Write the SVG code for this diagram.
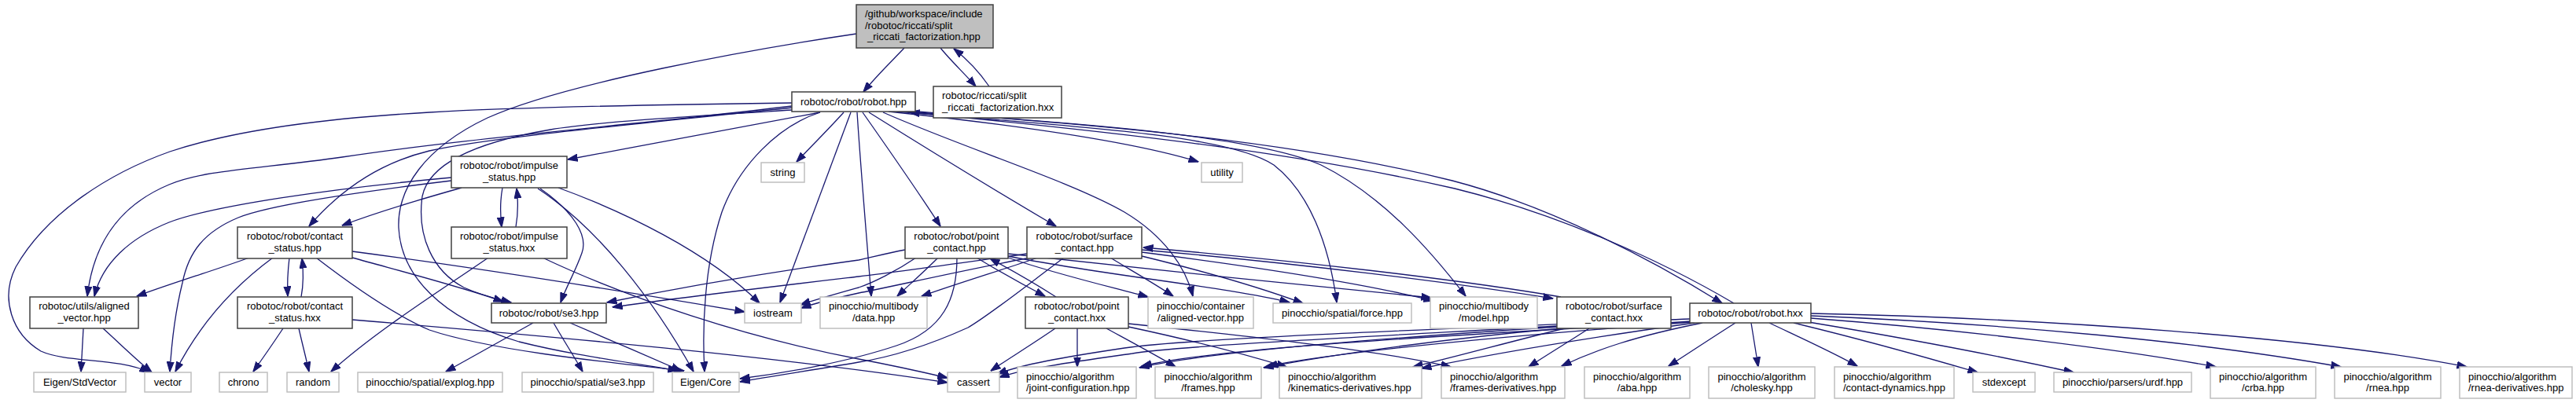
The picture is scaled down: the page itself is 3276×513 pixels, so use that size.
<svg xmlns="http://www.w3.org/2000/svg" width="3276" height="513" viewBox="0 0 3276 513">
<defs>
<marker id="ah" viewBox="0 0 13 10" refX="12.5" refY="5" markerWidth="13" markerHeight="10" markerUnits="userSpaceOnUse" orient="auto">
<path d="M0,0.5 L13,5 L0,9.5 z" fill="#191970" stroke="#191970" stroke-width="1"/>
</marker>
<style>
text{font-family:"Liberation Sans",Arial,Helvetica,sans-serif;font-size:13px;fill:#000}
.c{text-anchor:middle}
.l{text-anchor:start}
.n rect{fill:#fff;stroke:#404040;stroke-width:1.5}
.x rect{fill:#fff;stroke:#bfbfbf;stroke-width:1.5}
.r rect{fill:#bfbfbf;stroke:#404040;stroke-width:1.5}
#edges path{fill:none;stroke:#191970;stroke-width:1.3;marker-end:url(#ah)}
</style>
</defs>
<rect x="0" y="0" width="3276" height="513" fill="#fff"/>
<g id="edges">
<path d="M1150,61 C1135,77 1115,96 1098,117"/>
<path d="M1196,61 C1208,76 1225,92 1241,110"/>
<path d="M1258,110 C1247,94 1232,77 1213,62"/>
<path d="M1089,43 C960,62 720,105 620,150 C540,188 505,240 507,290 C510,350 560,405 660,435 C740,455 810,462 862,472"/>
<path d="M1007,131 C850,133 650,137 546,143 C420,150 300,165 216,193 C140,220 60,270 20,340 C0,380 15,425 52,447 C85,462 150,455 190,474"/>
<path d="M1007,135 C800,160 600,175 435,200 C330,215 260,216 215,235 C160,258 120,300 111,377"/>
<path d="M1007,137 C820,157 620,175 546,192 C480,208 430,245 393,288"/>
<path d="M1043,143 C940,162 830,183 722,203"/>
<path d="M1007,140 C880,148 760,155 700,165 C600,182 545,210 537,250 C530,300 550,345 590,366 C612,376 630,380 650,385"/>
<path d="M1043,143 C990,160 940,210 918,270 C895,340 893,420 896,473"/>
<path d="M1073,143 C1055,163 1033,185 1013,206"/>
<path d="M1082,143 C1050,230 1020,310 992,385"/>
<path d="M1090,143 C1095,220 1102,300 1108,377"/>
<path d="M1097,143 C1130,190 1165,240 1196,288"/>
<path d="M1105,143 C1180,190 1270,245 1343,288"/>
<path d="M1123,143 C1230,190 1360,230 1430,270 C1480,300 1508,340 1517,377"/>
<path d="M1130,142 C1300,160 1440,180 1524,206"/>
<path d="M1140,142 C1350,160 1560,170 1620,210 C1665,245 1690,310 1700,385"/>
<path d="M1150,142 C1400,158 1600,175 1680,210 C1760,250 1820,320 1864,377"/>
<path d="M1155,141 C1400,160 1640,178 1847,230 C1970,262 2100,330 2190,386"/>
<path d="M2205,386 C2110,330 1980,272 1850,240 C1640,192 1400,166 1157,143"/>
<path d="M574,226 C420,240 270,262 215,283 C165,303 130,335 120,377"/>
<path d="M574,230 C450,245 340,262 303,277 C260,295 240,320 232,360 C222,400 218,440 216,473"/>
<path d="M587,239 C530,255 480,270 435,287"/>
<path d="M639,239 C636,255 636,272 638,289"/>
<path d="M656,289 C659,272 659,256 657,240"/>
<path d="M687,240 C730,270 748,300 740,322 C732,345 720,365 713,385"/>
<path d="M684,240 C760,290 830,380 882,473"/>
<path d="M710,239 C790,268 900,320 966,386"/>
<path d="M621,328 C560,370 480,420 421,473"/>
<path d="M690,328 C800,380 950,430 1092,457 C1140,466 1175,474 1205,481"/>
<path d="M317,328 C270,345 220,360 174,377"/>
<path d="M347,328 C290,370 250,420 223,473"/>
<path d="M368,328 C366,345 365,360 366,377"/>
<path d="M383,378 C386,362 386,345 384,329"/>
<path d="M448,320 C600,340 800,372 947,397"/>
<path d="M448,328 C520,348 590,366 640,384"/>
<path d="M402,328 C450,365 500,400 546,420 C620,445 760,460 870,472"/>
<path d="M360,418 C348,436 335,455 322,473"/>
<path d="M380,418 C384,436 389,455 393,473"/>
<path d="M448,407 C700,428 1000,455 1205,487"/>
<path d="M106,418 C105,436 104,455 103,473"/>
<path d="M131,418 C150,435 170,455 193,474"/>
<path d="M678,411 C640,432 605,452 567,473"/>
<path d="M704,411 C716,432 729,452 741,473"/>
<path d="M725,411 C770,430 820,452 866,472"/>
<path d="M1151,318 C1130,322 1110,327 1092,331 C990,345 870,365 772,385"/>
<path d="M1165,328 C1140,345 1110,360 1092,366 C1060,375 1035,382 1018,388"/>
<path d="M1193,328 C1176,345 1158,361 1141,377"/>
<path d="M1282,328 C1340,348 1400,362 1460,378"/>
<path d="M1282,326 C1400,350 1560,365 1640,385"/>
<path d="M1282,323 C1450,342 1650,362 1820,379"/>
<path d="M1217,328 C1217,380 1200,420 1140,440 C1080,460 1000,475 941,482"/>
<path d="M1242,328 C1270,345 1300,362 1329,377"/>
<path d="M1343,378 C1315,360 1285,343 1259,329"/>
<path d="M1306,323 C1220,335 1150,345 1092,352 C990,364 870,378 779,391"/>
<path d="M1310,328 C1220,345 1120,368 1092,373 C1065,379 1040,385 1019,392"/>
<path d="M1320,328 C1270,345 1220,360 1172,377"/>
<path d="M1353,328 C1310,360 1260,400 1231,417 C1180,440 1130,455 1092,461 C1040,470 980,479 941,486"/>
<path d="M1412,328 C1440,345 1470,362 1492,377"/>
<path d="M1452,326 C1530,345 1600,365 1657,386"/>
<path d="M1452,321 C1600,340 1740,362 1823,383"/>
<path d="M1452,318 C1650,335 1850,360 1975,380"/>
<path d="M1985,378 C1850,355 1650,332 1454,315"/>
<path d="M1342,418 C1310,440 1285,455 1260,472"/>
<path d="M1370,418 C1370,435 1370,450 1370,467"/>
<path d="M1407,418 C1440,436 1470,452 1495,467"/>
<path d="M1435,416 C1510,432 1580,450 1636,467"/>
<path d="M1435,412 C1560,425 1750,445 1845,467"/>
<path d="M1980,415 C1750,428 1500,440 1440,450 C1370,460 1310,468 1271,480"/>
<path d="M1982,416 C1800,428 1550,445 1449,468"/>
<path d="M1985,418 C1850,430 1700,450 1607,468"/>
<path d="M1990,418 C1920,435 1860,452 1797,467"/>
<path d="M2021,418 C1995,435 1970,450 1944,467"/>
<path d="M2149,406 C1850,418 1520,430 1430,443 C1350,455 1300,464 1268,476"/>
<path d="M2150,409 C1900,425 1560,440 1452,466"/>
<path d="M2152,410 C1950,425 1720,445 1612,466"/>
<path d="M2155,411 C2020,430 1900,450 1808,469"/>
<path d="M2165,411 C2080,428 2030,445 1986,466"/>
<path d="M2207,411 C2180,428 2150,448 2122,466"/>
<path d="M2227,411 C2230,430 2233,448 2236,467"/>
<path d="M2250,411 C2290,430 2330,448 2362,466"/>
<path d="M2281,411 C2360,430 2450,455 2515,474"/>
<path d="M2300,410 C2420,430 2550,455 2637,474"/>
<path d="M2303,405 C2500,420 2700,445 2818,467"/>
<path d="M2303,402 C2550,412 2800,435 2977,467"/>
<path d="M2303,399 C2600,405 2950,430 3137,467"/>
</g>
<g id="n_root" class="r"><rect x="1089" y="6" width="174" height="55"/><text class="l" x="1100" y="22">/github/workspace/include</text><text class="l" x="1100" y="37">/robotoc/riccati/split</text><text class="l" x="1103" y="51">_riccati_factorization.hpp</text></g>
<g id="n_robot_hpp" class="n"><rect x="1007" y="117" width="157" height="25"/><text class="c" x="1085.5" y="134">robotoc/robot/robot.hpp</text></g>
<g id="n_riccati_hxx" class="n"><rect x="1187" y="110" width="163" height="40"/><text class="l" x="1198" y="126">robotoc/riccati/split</text><text class="l" x="1198" y="140.5">_riccati_factorization.hxx</text></g>
<g id="n_impulse_hpp" class="n"><rect x="574" y="199" width="147" height="40"/><text class="c" x="647.5" y="215">robotoc/robot/impulse</text><text class="c" x="647.5" y="229.5">_status.hpp</text></g>
<g id="n_string" class="x"><rect x="968" y="207" width="55" height="25"/><text class="c" x="995.5" y="224">string</text></g>
<g id="n_utility" class="x"><rect x="1528" y="207" width="52" height="25"/><text class="c" x="1554" y="224">utility</text></g>
<g id="n_contact_hpp" class="n"><rect x="302" y="289" width="146" height="40"/><text class="c" x="375" y="305">robotoc/robot/contact</text><text class="c" x="375" y="319.5">_status.hpp</text></g>
<g id="n_impulse_hxx" class="n"><rect x="574" y="289" width="147" height="40"/><text class="c" x="647.5" y="305">robotoc/robot/impulse</text><text class="c" x="647.5" y="319.5">_status.hxx</text></g>
<g id="n_point_hpp" class="n"><rect x="1151" y="289" width="131" height="40"/><text class="c" x="1216.5" y="305">robotoc/robot/point</text><text class="c" x="1216.5" y="319.5">_contact.hpp</text></g>
<g id="n_surface_hpp" class="n"><rect x="1306" y="289" width="146" height="40"/><text class="c" x="1379" y="305">robotoc/robot/surface</text><text class="c" x="1379" y="319.5">_contact.hpp</text></g>
<g id="n_aligned_vector" class="n"><rect x="38" y="378" width="138" height="40"/><text class="c" x="107" y="394">robotoc/utils/aligned</text><text class="c" x="107" y="408.5">_vector.hpp</text></g>
<g id="n_contact_hxx" class="n"><rect x="302" y="378" width="146" height="40"/><text class="c" x="375" y="394">robotoc/robot/contact</text><text class="c" x="375" y="408.5">_status.hxx</text></g>
<g id="n_se3" class="n"><rect x="625" y="386" width="146" height="25"/><text class="c" x="698" y="403">robotoc/robot/se3.hpp</text></g>
<g id="n_iostream" class="x"><rect x="947" y="386" width="72" height="25"/><text class="c" x="983" y="403">iostream</text></g>
<g id="n_data" class="x"><rect x="1043" y="378" width="136" height="40"/><text class="c" x="1111" y="394">pinocchio/multibody</text><text class="c" x="1111" y="408.5">/data.hpp</text></g>
<g id="n_point_hxx" class="n"><rect x="1304" y="378" width="131" height="40"/><text class="c" x="1369.5" y="394">robotoc/robot/point</text><text class="c" x="1369.5" y="408.5">_contact.hxx</text></g>
<g id="n_container_av" class="x"><rect x="1460" y="378" width="134" height="40"/><text class="c" x="1527" y="394">pinocchio/container</text><text class="c" x="1527" y="408.5">/aligned-vector.hpp</text></g>
<g id="n_force" class="x"><rect x="1619" y="386" width="176" height="25"/><text class="c" x="1707" y="403">pinocchio/spatial/force.hpp</text></g>
<g id="n_model" class="x"><rect x="1819" y="378" width="136" height="40"/><text class="c" x="1887" y="394">pinocchio/multibody</text><text class="c" x="1887" y="408.5">/model.hpp</text></g>
<g id="n_surface_hxx" class="n"><rect x="1980" y="378" width="145" height="40"/><text class="c" x="2052.5" y="394">robotoc/robot/surface</text><text class="c" x="2052.5" y="408.5">_contact.hxx</text></g>
<g id="n_robot_hxx" class="n"><rect x="2149" y="386" width="154" height="25"/><text class="c" x="2226" y="403">robotoc/robot/robot.hxx</text></g>
<g id="n_stdvector" class="x"><rect x="43" y="474" width="117" height="25"/><text class="c" x="101.5" y="491">Eigen/StdVector</text></g>
<g id="n_vector" class="x"><rect x="184" y="474" width="59" height="25"/><text class="c" x="213.5" y="491">vector</text></g>
<g id="n_chrono" class="x"><rect x="279" y="474" width="61" height="25"/><text class="c" x="309.5" y="491">chrono</text></g>
<g id="n_random" class="x"><rect x="365" y="474" width="66" height="25"/><text class="c" x="398" y="491">random</text></g>
<g id="n_explog" class="x"><rect x="455" y="474" width="184" height="25"/><text class="c" x="547" y="491">pinocchio/spatial/explog.hpp</text></g>
<g id="n_spatial_se3" class="x"><rect x="664" y="474" width="167" height="25"/><text class="c" x="747.5" y="491">pinocchio/spatial/se3.hpp</text></g>
<g id="n_eigen_core" class="x"><rect x="855" y="474" width="85" height="25"/><text class="c" x="897.5" y="491">Eigen/Core</text></g>
<g id="n_cassert" class="x"><rect x="1205" y="474" width="66" height="25"/><text class="c" x="1238" y="491">cassert</text></g>
<g id="n_jointconf" class="x"><rect x="1294" y="467" width="151" height="40"/><text class="l" x="1305" y="483.5">pinocchio/algorithm</text><text class="l" x="1305" y="498">/joint-configuration.hpp</text></g>
<g id="n_frames" class="x"><rect x="1469" y="467" width="135" height="40"/><text class="c" x="1536.5" y="483.5">pinocchio/algorithm</text><text class="c" x="1536.5" y="498">/frames.hpp</text></g>
<g id="n_kinder" class="x"><rect x="1627" y="467" width="181" height="40"/><text class="l" x="1638" y="483.5">pinocchio/algorithm</text><text class="l" x="1638" y="498">/kinematics-derivatives.hpp</text></g>
<g id="n_framesder" class="x"><rect x="1833" y="467" width="157" height="40"/><text class="l" x="1844" y="483.5">pinocchio/algorithm</text><text class="l" x="1844" y="498">/frames-derivatives.hpp</text></g>
<g id="n_aba" class="x"><rect x="2015" y="467" width="134" height="40"/><text class="c" x="2082" y="483.5">pinocchio/algorithm</text><text class="c" x="2082" y="498">/aba.hpp</text></g>
<g id="n_cholesky" class="x"><rect x="2173" y="467" width="135" height="40"/><text class="c" x="2240.5" y="483.5">pinocchio/algorithm</text><text class="c" x="2240.5" y="498">/cholesky.hpp</text></g>
<g id="n_contactdyn" class="x"><rect x="2333" y="467" width="152" height="40"/><text class="l" x="2344" y="483.5">pinocchio/algorithm</text><text class="l" x="2344" y="498">/contact-dynamics.hpp</text></g>
<g id="n_stdexcept" class="x"><rect x="2509" y="474" width="79" height="25"/><text class="c" x="2548.5" y="491">stdexcept</text></g>
<g id="n_urdf" class="x"><rect x="2612" y="474" width="175" height="25"/><text class="c" x="2699.5" y="491">pinocchio/parsers/urdf.hpp</text></g>
<g id="n_crba" class="x"><rect x="2811" y="467" width="134" height="40"/><text class="c" x="2878" y="483.5">pinocchio/algorithm</text><text class="c" x="2878" y="498">/crba.hpp</text></g>
<g id="n_rnea" class="x"><rect x="2969" y="467" width="135" height="40"/><text class="c" x="3036.5" y="483.5">pinocchio/algorithm</text><text class="c" x="3036.5" y="498">/rnea.hpp</text></g>
<g id="n_rneader" class="x"><rect x="3128" y="467" width="143" height="40"/><text class="l" x="3139" y="483.5">pinocchio/algorithm</text><text class="l" x="3139" y="498">/rnea-derivatives.hpp</text></g>
</svg>
